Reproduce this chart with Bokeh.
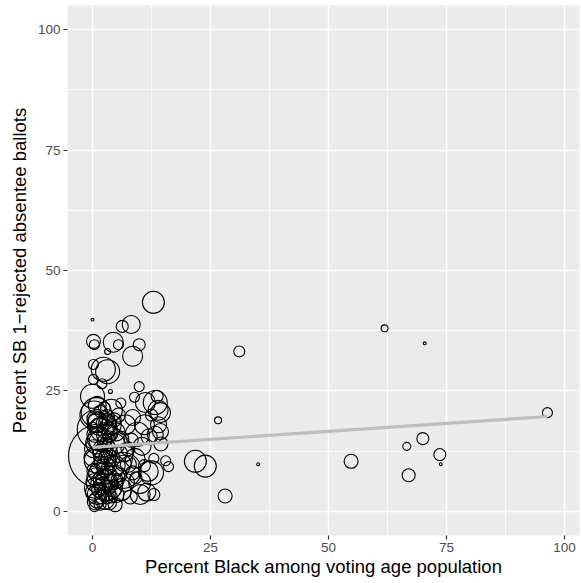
from bokeh.plotting import figure
from bokeh.models import Range1d, FixedTicker, ColumnDataSource
from bokeh.embed import file_html
from bokeh.resources import INLINE
import numpy as np

# Percent Black among voting age population
pct_black = [
    31.1, 61.9, 70.4, 26.6, 96.4, 21.8, 23.9, 35.1, 28.1, 54.8, 66.6, 70.0, 73.6, 73.8, 67.0,
    12.9, 0.0, 6.3, 8.2, 0.2, 0.4, 4.4, 5.5, 9.9, 8.5, 3.2, 0.2, 3.2, 0.2, 2.0, 3.8, 9.9,
    0.0, 13.7, 13.3, 8.9, 11.2, 14.4, 14.4, 13.3,
    0.3, 1.0, 2.0, 3.0, 4.0, 5.0, 0.5, 1.5, 2.5, 3.5, 4.5, 6.0, 0.2, 1.2, 2.2, 3.2, 4.2, 5.5,
    0.8, 1.8, 2.8, 3.8, 4.8, 6.5, 0.3, 1.3, 2.3, 3.3, 4.3, 5.3, 0.5, 1.5, 2.5, 3.5, 4.5,
    0.2, 1.0, 2.0, 3.0, 4.0, 0.6, 1.6, 2.6, 3.6, 0.4, 5.0, 1.0, 2.5, 4.0, 5.5, 6.0, 0.0,
    7.0, 7.5, 7.0, 6.0, 8.0,
    8.5, 9.5, 10.5, 9.0, 8.5, 10.0, 11.0, 12.0, 12.5, 11.5, 13.0, 14.5, 15.5, 13.0, 11.0,
    12.5, 14.0, 16.1, 10.1, 11.8,
    1.7, 1.0, 6.5, 3.0, 0.8, 2.3, 13.9,
    0.6, 1.4, 2.1, 2.9, 3.7, 4.6, 0.9, 1.9, 2.7, 3.4, 0.1, 1.1, 2.4, 3.1, 4.1,
    0.7, 1.7, 2.6, 3.9, 5.2, 0.4, 1.3, 2.2, 3.0, 4.4, 5.8, 6.8, 7.6, 8.2, 9.2,
    0.5, 1.6, 2.8, 1.2, 2.2, 3.6, 0.9, 4.8,
]
# Percent SB 1-rejected absentee ballots
pct_rejected = [
    33.2, 38.0, 34.9, 18.9, 20.5, 10.4, 9.4, 9.8, 3.2, 10.4, 13.5, 15.1, 11.8, 9.8, 7.5,
    43.4, 39.8, 38.4, 38.8, 35.3, 34.6, 35.1, 34.6, 34.6, 32.2, 33.2, 30.5, 29.0, 27.4, 26.5, 24.9, 25.9,
    23.9, 23.9, 22.6, 23.7, 22.6, 20.5, 16.6, 16.0,
    20.0, 18.5, 17.0, 19.5, 18.0, 16.5, 16.0, 15.0, 14.5, 15.5, 14.0, 15.0, 13.0, 12.5, 12.0, 11.5, 12.5, 12.0,
    10.5, 10.0, 9.5, 10.5, 9.5, 10.0, 8.5, 8.0, 7.5, 8.0, 7.0, 8.5, 6.0, 5.5, 6.5, 5.0, 5.5,
    4.0, 3.5, 3.0, 4.0, 3.0, 2.0, 1.5, 2.5, 1.8, 1.0, 3.5, 22.0, 21.5, 21.0, 20.0, 22.5, 17.5,
    18.0, 13.0, 6.0, 4.5, 3.0,
    19.5, 16.0, 13.5, 11.0, 8.0, 6.0, 9.5, 15.5, 8.0, 4.0, 11.0, 14.0, 10.5, 3.5, 18.0,
    20.0, 18.0, 9.3, 3.5, 8.3,
    11.5, 17.0, 8.5, 5.5, 20.5, 29.5, 21.0,
    18.8, 17.6, 15.8, 18.2, 16.2, 19.0, 14.2, 13.4, 16.8, 13.8, 11.2, 9.2, 10.8, 9.0, 11.0,
    7.2, 6.8, 8.8, 6.2, 6.6, 4.8, 4.4, 5.2, 2.8, 4.6, 7.6, 12.2, 9.8, 14.8, 7.0,
    19.2, 20.8, 18.4, 14.6, 12.8, 17.2, 2.4, 1.4,
]
# Weight (number of absentee ballots, hundreds)
ballots = [
    30, 12, 2, 12, 25, 121, 121, 2, 49, 49, 16, 36, 36, 2, 42,
    121, 2, 36, 81, 49, 25, 100, 25, 36, 100, 9, 25, 144, 25, 25, 4, 25,
    144, 36, 144, 25, 100, 100, 64, 64,
    196, 100, 144, 64, 100, 81, 64, 144, 49, 36, 121, 64, 81, 36, 100, 64, 25, 81,
    144, 49, 81, 36, 100, 64, 49, 100, 36, 64, 144, 25, 81, 36, 121, 49, 25,
    64, 100, 49, 81, 36, 64, 36, 100, 49, 25, 64, 81, 36, 121, 49, 25, 25,
    100, 49, 81, 121, 49,
    64, 144, 81, 100, 49, 121, 36, 64, 144, 81, 25, 49, 25, 36, 100,
    36, 64, 25, 100, 100,
    1024, 400, 324, 256, 225, 144, 100,
    49, 81, 36, 100, 64, 49, 121, 25, 64, 36, 81, 49, 100, 36, 64,
    81, 25, 64, 49, 36, 100, 49, 81, 36, 64, 49, 81, 64, 49, 36,
    64, 36, 49, 81, 100, 36, 64, 49,
]

# Fitted (linear) trend endpoints
fit_x = [0.0, 96.4]
fit_y = [13.3, 19.7]

x_ticks = [0, 25, 50, 75, 100]
y_ticks = [0, 25, 50, 75, 100]

sizes = [2.0 * np.sqrt(b) for b in ballots]
src = ColumnDataSource(dict(x=pct_black, y=pct_rejected, s=sizes))

p = figure(width=581, height=583, output_backend="svg", toolbar_location=None,
           x_range=Range1d(-5.3, 103.2), y_range=Range1d(-5, 105),
           min_border_left=67, min_border_right=2, min_border_top=5, min_border_bottom=48)

p.background_fill_color = "#EBEBEB"
p.border_fill_color = "white"
p.outline_line_color = None

for ax, ticks in ((p.xaxis, x_ticks), (p.yaxis, y_ticks)):
    ax.ticker = FixedTicker(ticks=ticks, minor_ticks=[12.5, 37.5, 62.5, 87.5])
    ax.axis_line_color = None
    ax.major_tick_line_color = "#333333"
    ax.major_tick_line_width = 1.2
    ax.major_tick_out = 4
    ax.major_tick_in = 0
    ax.minor_tick_line_color = None
    ax.major_label_text_font = "Liberation Sans"
    ax.major_label_text_font_size = "13.5px"
    ax.major_label_text_color = "#4D4D4D"
    ax.axis_label_text_font = "Liberation Sans"
    ax.axis_label_text_font_size = "18.5px"
    ax.axis_label_text_font_style = "normal"
    ax.axis_label_text_color = "black"
    ax.major_label_standoff = 3

p.xaxis.axis_label = "Percent Black among voting age population"
p.yaxis.axis_label = "Percent SB 1\u2212rejected absentee ballots"
p.xaxis.axis_label_standoff = 1
p.yaxis.axis_label_standoff = 5

for g in (p.xgrid, p.ygrid):
    g.grid_line_color = "white"
    g.grid_line_width = 1.5
    g.minor_grid_line_color = "white"
    g.minor_grid_line_width = 0.8

p.scatter("x", "y", size="s", source=src, marker="circle", fill_color=None,
          line_color="black", line_width=1.1)
p.line(fit_x, fit_y, line_color="#BDBDBD", line_width=3.2)

open("out.html", "w").write(file_html(p, INLINE))
